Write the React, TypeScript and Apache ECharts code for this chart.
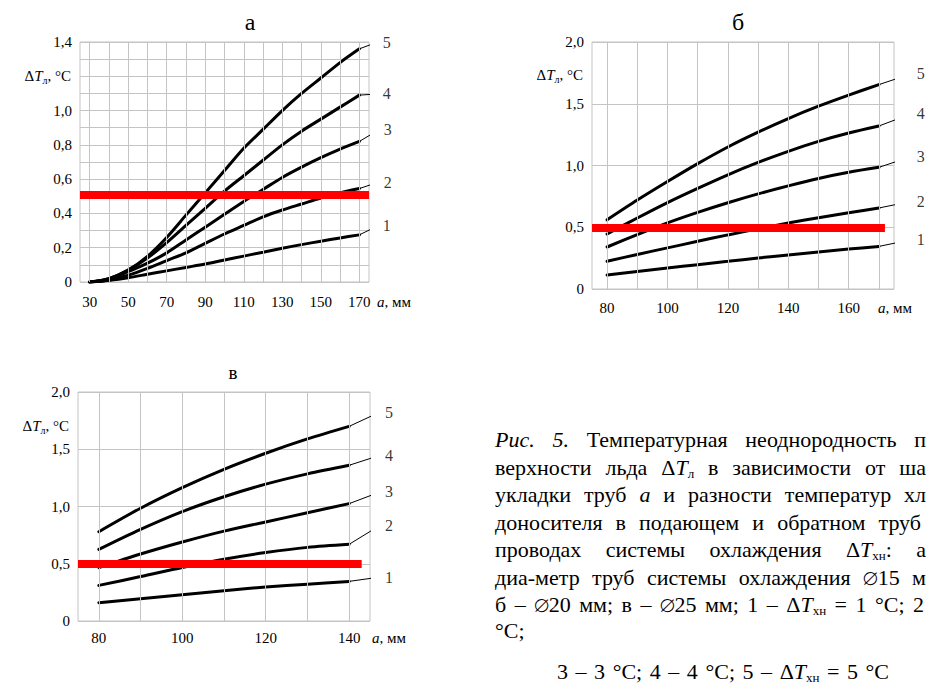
import React, { useEffect, useRef } from 'react';
import * as echarts from 'echarts';

const FONT = 'Liberation Serif, Tinos, Times New Roman, Times, DejaVu Serif, Noto Serif, FreeSerif, serif';
const GRID = '#c4c4c4';

// ---------- Panel а (Ø15 мм) ----------
const xA = [30, 40, 50, 60, 70, 80, 90, 100, 110, 120, 130, 140, 150, 160, 170];
const a1 = [0, 0.01, 0.025, 0.045, 0.065, 0.085, 0.105, 0.128, 0.151, 0.174, 0.197, 0.218, 0.238, 0.257, 0.275];
const a2 = [0, 0.01, 0.04, 0.08, 0.125, 0.17, 0.225, 0.28, 0.33, 0.38, 0.42, 0.455, 0.49, 0.52, 0.545];
const a3 = [0, 0.015, 0.06, 0.11, 0.17, 0.245, 0.32, 0.395, 0.47, 0.54, 0.61, 0.67, 0.725, 0.775, 0.82];
const a4 = [0, 0.02, 0.07, 0.14, 0.23, 0.33, 0.43, 0.53, 0.62, 0.71, 0.8, 0.88, 0.95, 1.02, 1.09];
const a5 = [0, 0.02, 0.07, 0.15, 0.26, 0.39, 0.52, 0.65, 0.78, 0.89, 1.0, 1.1, 1.19, 1.28, 1.36];
const xGridA = [30, 40, 50, 60, 70, 80, 90, 100, 110, 120, 130, 140, 150, 160, 170];
const anchorsA = [[179.5, 0.327], [180, 0.583], [180, 0.887], [179.5, 1.097], [179.5, 1.4]];
const redA = [25, 175, 0.51];

// ---------- Panel б (Ø20 мм) ----------
const xB = [80, 90, 100, 110, 120, 130, 140, 150, 160, 170];
const b1 = [0.113, 0.142, 0.17, 0.197, 0.224, 0.251, 0.276, 0.3, 0.323, 0.345];
const b2 = [0.224, 0.28, 0.333, 0.386, 0.438, 0.487, 0.534, 0.577, 0.617, 0.656];
const b3 = [0.34, 0.44, 0.535, 0.62, 0.698, 0.77, 0.835, 0.895, 0.945, 0.985];
const b4 = [0.445, 0.575, 0.7, 0.815, 0.925, 1.025, 1.115, 1.195, 1.263, 1.32];
const b5 = [0.56, 0.72, 0.87, 1.015, 1.15, 1.27, 1.38, 1.48, 1.57, 1.655];
const xGridB = [80, 90, 100, 110, 120, 130, 140, 150, 160, 170];
const anchorsB = [[180.9, 0.4], [180.9, 0.71], [180.9, 1.074], [180.9, 1.42], [180.9, 1.744]];
const redB = [75, 172, 0.5];

// ---------- Panel в (Ø25 мм) ----------
const xC = [80, 90, 100, 110, 120, 130, 140];
const c1 = [0.16, 0.195, 0.23, 0.265, 0.297, 0.322, 0.346];
const c2 = [0.311, 0.388, 0.468, 0.54, 0.598, 0.643, 0.67];
const c3 = [0.466, 0.585, 0.69, 0.785, 0.865, 0.945, 1.025];
const c4 = [0.625, 0.8, 0.955, 1.085, 1.195, 1.285, 1.36];
const c5 = [0.78, 0.985, 1.165, 1.325, 1.465, 1.59, 1.7];
const xGridC = [80, 90, 100, 110, 120, 130, 140];
const anchorsC = [[147.4, 0.384], [147.4, 0.835], [147.4, 1.127], [147.4, 1.447], [147.4, 1.825]];
const redC = [75, 143, 0.5];

const curveNames = ['1', '2', '3', '4', '5'];

// caption lines (justified between a start x and a right edge)
const captionLines = [
  '{it|Рис.} {it|5.} Температурная неоднородность п',
  'верхности льда Δ{it|T}{sub|л} в зависимости от ша',
  'укладки труб {it|a} и разности температур хл',
  'доносителя в подающем и обратном труб',
  'проводах системы охлаждения Δ{it|T}{sub|хн}: а',
  'диа-метр труб системы охлаждения ∅15 м',
  'б – ∅20 мм; в – ∅25 мм; 1 – Δ{it|T}{sub|хн} = 1 °C; 2',
  '°C;',
  '3 – 3 °C; 4 – 4 °C; 5 – Δ{it|T}{sub|хн} = 5 °C',
];
const captionY = [439, 467, 494, 522, 549, 577, 604, 630, 671];
const captionX0 = [495, 495, 495, 495, 495, 495, 495, 495, 557];
const captionRight = [926, 926, 926, 921, 926, 926, 924, null, 889];
const CAP_SIZE = 22;
const SUB_SIZE = 13;

const txt = (size: number) => ({ fontFamily: FONT, fontSize: size, color: '#000' });

const capRich = {
  it: { fontFamily: FONT, fontSize: CAP_SIZE, fontStyle: 'italic', fill: '#000', lineHeight: 26 },
  sub: { fontFamily: FONT, fontSize: SUB_SIZE, fill: '#000', lineHeight: 26, verticalAlign: 'bottom' },
};

function measureRich(ctx: CanvasRenderingContext2D, s: string) {
  const re = /\{(\w+)\|([^}]*)\}|([^{}]+)/g;
  let w = 0;
  let m: RegExpExecArray | null;
  while ((m = re.exec(s))) {
    const st = m[1];
    const t = m[1] ? m[2] : m[3];
    if (st === 'it') ctx.font = `italic ${CAP_SIZE}px ${FONT}`;
    else if (st === 'sub') ctx.font = `${SUB_SIZE}px ${FONT}`;
    else ctx.font = `${CAP_SIZE}px ${FONT}`;
    w += ctx.measureText(t).width;
  }
  return w;
}

function captionGraphics() {
  const canvas = document.createElement('canvas');
  const ctx = canvas.getContext('2d') as CanvasRenderingContext2D;
  ctx.font = `${CAP_SIZE}px ${FONT}`;
  const spaceW = ctx.measureText(' ').width;
  const out: any[] = [];
  captionLines.forEach((line, i) => {
    const words = line.split(' ');
    const widths = words.map((w) => measureRich(ctx, w));
    const right = captionRight[i];
    let gap = spaceW;
    if (right != null && words.length > 1) {
      const sum = widths.reduce((a, b) => a + b, 0);
      gap = Math.max(spaceW * 0.6, (right - captionX0[i] - sum) / (words.length - 1));
    }
    let x = captionX0[i];
    words.forEach((w, k) => {
      out.push({
        type: 'text',
        x,
        y: captionY[i],
        silent: true,
        style: {
          text: w,
          fontFamily: FONT,
          fontSize: CAP_SIZE,
          fill: '#000',
          align: 'left',
          verticalAlign: 'middle',
          rich: capRich,
        },
      });
      x += widths[k] + gap;
    });
  });
  return out;
}

function buildPanel(
  idx: number,
  xs: number[],
  curves: number[][],
  anchors: number[][],
  xGrid: number[],
  red: number[]
) {
  const series: any[] = [];
  series.push({
    type: 'line',
    xAxisIndex: idx,
    yAxisIndex: idx,
    data: [],
    silent: true,
    z: 1,
    markLine: {
      silent: true,
      symbol: 'none',
      label: { show: false },
      lineStyle: { color: GRID, width: 1, type: 'solid' },
      data: xGrid.map((v) => ({ xAxis: v })),
    },
  });
  curves.forEach((ys, k) => {
    const pts = xs.map((x, i) => [x, ys[i]]);
    series.push({
      type: 'line',
      name: curveNames[k],
      xAxisIndex: idx,
      yAxisIndex: idx,
      data: pts,
      smooth: 0.3,
      symbol: 'none',
      silent: true,
      z: 3,
      lineStyle: { color: '#000', width: 3, cap: 'round' },
    });
    series.push({
      type: 'line',
      xAxisIndex: idx,
      yAxisIndex: idx,
      data: [pts[pts.length - 1], anchors[k]],
      symbol: 'none',
      silent: true,
      clip: false,
      z: 3,
      lineStyle: { color: '#000', width: 1 },
    });
  });
  series.push({
    type: 'scatter',
    xAxisIndex: idx,
    yAxisIndex: idx,
    data: anchors.map((p, k) => ({ value: p, name: curveNames[k] })),
    symbolSize: 0,
    clip: false,
    silent: true,
    z: 4,
    itemStyle: { color: 'transparent' },
    label: { show: true, position: 'right', distance: 5, formatter: '{b}', ...txt(16) },
  });
  series.push({
    type: 'line',
    xAxisIndex: idx,
    yAxisIndex: idx,
    data: [],
    silent: true,
    z: 6,
    markLine: {
      silent: true,
      symbol: 'none',
      label: { show: false },
      lineStyle: { color: '#ff0000', width: 8, type: 'solid', cap: 'butt' },
      data: [[{ coord: [red[0], red[2]] }, { coord: [red[1], red[2]] }]],
    },
  });
  return series;
}

const yName = '{d|Δ}{t|T}{s|л}{d|, °C}';
const yNameRich = {
  d: { ...txt(15), lineHeight: 18, verticalAlign: 'middle' },
  t: { ...txt(15), fontStyle: 'italic', lineHeight: 18, verticalAlign: 'middle' },
  s: { ...txt(10), lineHeight: 18, verticalAlign: 'bottom' },
};
const xName = '{i|a}{n|, мм}';
const xNameRich = {
  i: { ...txt(15), fontStyle: 'italic', lineHeight: 16 },
  n: { ...txt(15), lineHeight: 16 },
};

function xAxisCfg(idx: number, min: number, max: number, showLabel: (v: number) => boolean, margin: number, nameGap: number) {
  return {
    gridIndex: idx,
    type: 'value',
    min,
    max,
    interval: 5,
    axisLine: { show: false },
    axisTick: { show: false },
    splitLine: { show: false },
    axisLabel: { formatter: (v: number) => (showLabel(v) ? String(v) : ''), margin, ...txt(15) },
    name: xName,
    nameLocation: 'end',
    nameGap,
    nameMoveOverlap: false,
    nameTextStyle: { align: 'left', verticalAlign: 'top', padding: [margin, 0, 0, 0], rich: xNameRich, ...txt(15) },
  };
}

function yAxisCfg(idx: number, max: number, interval: number, fmt: (v: number) => string, nameGap: number) {
  return {
    gridIndex: idx,
    type: 'value',
    min: 0,
    max,
    interval,
    axisLine: { show: false },
    axisTick: { show: false },
    splitLine: { show: true, lineStyle: { color: GRID, width: 1 } },
    axisLabel: { formatter: fmt, margin: 8, ...txt(15) },
    name: yName,
    nameLocation: 'end',
    nameGap,
    nameMoveOverlap: false,
    nameTextStyle: { align: 'right', verticalAlign: 'middle', padding: [0, 9, 0, 0], rich: yNameRich, ...txt(15) },
  };
}

const fmtA = (v: number) => {
  const k = Math.round(v * 10);
  if (k % 2 !== 0 || k === 12) return '';
  return k === 0 ? '0' : (k / 10).toFixed(1).replace('.', ',');
};
const fmtBC = (v: number) => {
  const k = Math.round(v * 10);
  return k === 0 ? '0' : (k / 10).toFixed(1).replace('.', ',');
};

export default function App() {
  const ref = useRef<HTMLDivElement>(null);
  useEffect(() => {
    if (!ref.current) return;
    const chart = echarts.init(ref.current, undefined, { renderer: 'svg' });
    const gridBase = { show: true, borderColor: GRID, borderWidth: 1, backgroundColor: 'transparent', containLabel: false, outerBoundsMode: 'none' };
    const option: any = {
      animation: false,
      backgroundColor: '#ffffff',
      textStyle: { fontFamily: FONT },
      grid: [
        { ...gridBase, left: 80, top: 42, width: 289, height: 240 },
        { ...gridBase, left: 592, top: 42, width: 302, height: 247 },
        { ...gridBase, left: 78, top: 392, width: 292, height: 229 },
      ],
      xAxis: [
        xAxisCfg(0, 25, 175, (v) => (v - 30) % 20 === 0, 12, 8),
        xAxisCfg(1, 75, 175, (v) => v % 20 === 0 && v <= 160, 11, -16),
        xAxisCfg(2, 75, 145, (v) => v % 20 === 0, 9, 2),
      ],
      yAxis: [
        yAxisCfg(0, 1.4, 0.1, fmtA, -34),
        yAxisCfg(1, 2.0, 0.5, fmtBC, -33),
        yAxisCfg(2, 2.0, 0.5, fmtBC, -34),
      ],
      series: [
        ...buildPanel(0, xA, [a1, a2, a3, a4, a5], anchorsA, xGridA, redA),
        ...buildPanel(1, xB, [b1, b2, b3, b4, b5], anchorsB, xGridB, redB),
        ...buildPanel(2, xC, [c1, c2, c3, c4, c5], anchorsC, xGridC, redC),
      ],
      graphic: [
        { type: 'text', x: 250, y: 22, style: { text: 'а', fontFamily: FONT, fontSize: 24, fill: '#000', align: 'center', verticalAlign: 'middle' } },
        { type: 'text', x: 738, y: 22, style: { text: 'б', fontFamily: FONT, fontSize: 24, fill: '#000', align: 'center', verticalAlign: 'middle' } },
        { type: 'text', x: 233, y: 372, style: { text: 'в', fontFamily: FONT, fontSize: 19, fill: '#000', align: 'center', verticalAlign: 'middle' } },
        ...captionGraphics(),
      ],
    };
    chart.setOption(option);
    return () => chart.dispose();
  }, []);
  return (
    <div
      ref={ref}
      style={{ position: 'absolute', left: 0, top: 0, width: 928, height: 688, background: '#fff' }}
    />
  );
}
